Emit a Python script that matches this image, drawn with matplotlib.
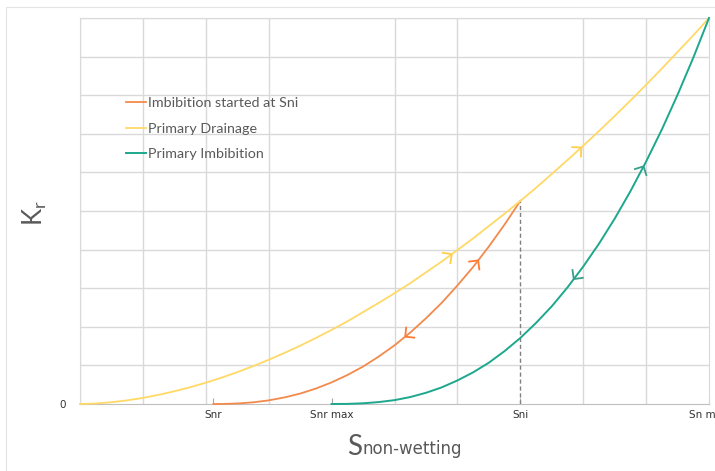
import numpy as np
import matplotlib
matplotlib.use("Agg")
import matplotlib.pyplot as plt
from matplotlib.patches import Rectangle

# saturation axis in grid units (0 .. 10), Kr in grid units (0 .. 10)
drainage_x = [0, 0.25, 0.5, 0.75, 1, 1.25, 1.5, 1.75, 2, 2.25, 2.5, 2.75, 3, 3.25, 3.5, 3.75, 4,
              4.25, 4.5, 4.75, 5, 5.25, 5.5, 5.75, 6, 6.25, 6.5, 6.75, 7, 7.25, 7.5, 7.75, 8,
              8.25, 8.5, 8.75, 9, 9.25, 9.5, 9.75, 10]
drainage_kr = [0, 0.013, 0.046, 0.094, 0.158, 0.237, 0.33, 0.434, 0.552, 0.682, 0.825, 0.979, 1.145,
               1.323, 1.51, 1.71, 1.92, 2.14, 2.38, 2.62, 2.87, 3.13, 3.41, 3.69, 3.99, 4.29, 4.61,
               4.93, 5.26, 5.60, 5.96, 6.32, 6.69, 7.07, 7.46, 7.86, 8.27, 8.69, 9.12, 9.55, 10]

sni_x = [2.12, 2.25, 2.5, 2.75, 3, 3.25, 3.5, 3.75, 4, 4.25, 4.5, 4.75, 5, 5.25, 5.5, 5.75, 6,
         6.25, 6.5, 6.75, 7]
sni_kr = [0, 0.001, 0.013, 0.043, 0.094, 0.17, 0.27, 0.40, 0.56, 0.75, 0.97, 1.23, 1.52, 1.85, 2.22,
          2.62, 3.07, 3.55, 4.08, 4.65, 5.26]

imb_x = [4, 4.25, 4.5, 4.75, 5, 5.25, 5.5, 5.75, 6, 6.25, 6.5, 6.75, 7, 7.25, 7.5, 7.75, 8, 8.25,
         8.5, 8.75, 9, 9.25, 9.5, 9.75, 10]
imb_kr = [0, 0.003, 0.018, 0.05, 0.10, 0.18, 0.29, 0.43, 0.61, 0.82, 1.07, 1.37, 1.71, 2.10, 2.53,
          3.02, 3.56, 4.15, 4.80, 5.51, 6.28, 7.11, 8.01, 8.97, 10]

tick_pos = [2.12, 4, 7, 10]
tick_labels = ["Snr", "Snr max", "Sni", "Sn max"]

# where the direction chevrons sit: (x, +1 forward / -1 backward)
drainage_arrows = [(5.91, 1), (7.97, 1)]
sni_arrows = [(6.33, 1), (5.17, -1)]
imb_arrows = [(8.96, 1), (7.85, -1)]

ORANGE = "#F28A4C"
YELLOW = "#FFD966"
TEAL = "#1DA78D"
GRID = "#D9D9D9"
TXT = "#595959"

fig = plt.figure(figsize=(7.15, 4.71), dpi=100)
fig.patches.append(Rectangle((6 / 715, -0.1), 1.2, (471 - 7) / 471 + 0.1, transform=fig.transFigure,
                             fill=False, edgecolor="#E3E3E3", lw=0.8))
ax = fig.add_axes([80 / 715, (471 - 404) / 471, 629 / 715, 386 / 471])

ax.set_xlim(0, 10)
ax.set_ylim(0, 10)
ax.set_xticks(np.arange(0, 11), minor=True)
ax.set_yticks(np.arange(0, 11), minor=True)
ax.grid(which="minor", color=GRID, lw=1)
ax.set_axisbelow(True)

ax.set_xticks(tick_pos)
ax.set_xticklabels(tick_labels, family=["Liberation Sans Narrow", "DejaVu Sans"], fontsize=7.5, color="#333333")
ax.set_yticks([0])
ax.set_yticklabels(["0"], family=["Liberation Sans Narrow", "DejaVu Sans"], fontsize=7.5, color="#333333")
ax.tick_params(axis="x", which="major", direction="in", length=4, color="#A6A6A6", pad=4)
ax.tick_params(axis="y", which="major", length=0, pad=10)
ax.tick_params(which="minor", length=0)
for s in ["left", "top", "right"]:
    ax.spines[s].set_color(GRID)
ax.spines["bottom"].set_color("#BFBFBF")

ax.plot(sni_x, sni_kr, color=ORANGE, lw=1.3, label="Imbibition started at Sni", clip_on=False, zorder=3)
ax.plot(drainage_x, drainage_kr, color=YELLOW, lw=1.3, label="Primary Drainage", clip_on=False, zorder=3)
ax.plot(imb_x, imb_kr, color=TEAL, lw=1.4, label="Primary Imbibition", clip_on=False, zorder=3)

# dashed drop line from the reversal point
ax.plot([sni_x[-1], sni_x[-1]], [0, sni_kr[-1]], color="#808080", lw=1, ls=(0, (3, 2)), zorder=2)


def chevron(xs, ys, x0, sense, color, arm=10):
    # two short arms at +-45 deg behind the tip, built in pixel space
    y0 = np.interp(x0, xs, ys)
    y1 = np.interp(x0 + 0.05, xs, ys)
    tip = ax.transData.transform((x0, y0))
    nxt = ax.transData.transform((x0 + 0.05, y1))
    d = (nxt - tip) * sense
    d = d / np.hypot(*d)
    back = -d
    inv = ax.transData.inverted()
    for ang in (np.pi / 4, -np.pi / 4):
        c, s = np.cos(ang), np.sin(ang)
        v = np.array([back[0] * c - back[1] * s, back[0] * s + back[1] * c])
        end = inv.transform(tip + v * arm)
        ax.plot([x0, end[0]], [y0, end[1]], color=color, lw=1.3, zorder=4,
                solid_capstyle="butt")


for x0, sense in drainage_arrows:
    chevron(drainage_x, drainage_kr, x0, sense, "#FFCF4A")
for x0, sense in sni_arrows:
    chevron(sni_x, sni_kr, x0, sense, "#FF7A33")
for x0, sense in imb_arrows:
    chevron(imb_x, imb_kr, x0, sense, "#3A9E8A")

leg = ax.legend(loc="upper left", bbox_to_anchor=(0.053, 0.828), frameon=False,
                prop={"family": ["Lato", "DejaVu Sans"], "size": 10.3},
                handlelength=1.35, handletextpad=0.2, labelspacing=0.93)
for t in leg.get_texts():
    t.set_color(TXT)

# axis titles with subscripts
fig.text(49 / 715, 1 - 213 / 471, "K$_{\\mathregular{r}}$", rotation=90, ha="right", va="center",
         fontsize=18.5, color=TXT, family=["Lato", "DejaVu Sans"])
fig.text(362 / 715, 1 - 455 / 471, "S", ha="right", va="baseline", fontsize=20, color=TXT,
         family=["Lato", "DejaVu Sans"])
fig.text(362 / 715, 1 - 454 / 471, "non-wetting", ha="left", va="baseline", fontsize=12, color=TXT,
         family=["Liberation Sans Narrow", "DejaVu Sans"])

fig.savefig("out.png", dpi=100)
